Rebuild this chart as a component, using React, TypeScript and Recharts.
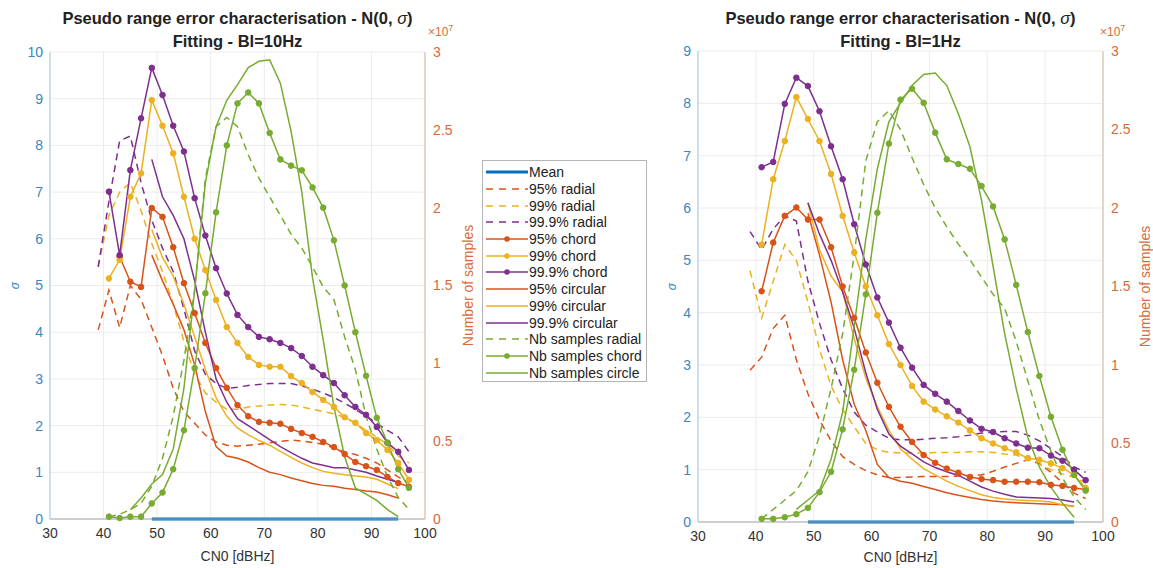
import React from "react";
import { LineChart, Line, XAxis, YAxis, CartesianGrid } from "recharts";

// CN0 sample points [dBHz]
const cn0 = [39, 41, 43, 45, 47, 49, 51, 53, 55, 57, 59, 61, 63, 65, 67, 69, 71, 73, 75, 77, 79, 81, 83, 85, 87, 89, 91, 93, 95, 97];
const xTicks = [30, 40, 50, 60, 70, 80, 90, 100];
const sampleTicks = [0, 0.5, 1, 1.5, 2, 2.5, 3];
const sigmaTicks10 = [0, 1, 2, 3, 4, 5, 6, 7, 8, 9, 10];
const sigmaTicks9 = [0, 1, 2, 3, 4, 5, 6, 7, 8, 9];

const N = null;

// ---- Bl = 10 Hz (sigma) ----
const l10Mean = [N, N, N, N, N, 0, 0, 0, 0, 0, 0, 0, 0, 0, 0, 0, 0, 0, 0, 0, 0, 0, 0, 0, 0, 0, 0, 0, 0, N];
const l10Rad95 = [4.05, 4.9, 4.1, 5.0, 4.7, 4.1, 3.5, 2.8, 2.3, 2.05, 1.8, 1.65, 1.58, 1.56, 1.58, 1.6, 1.63, 1.66, 1.69, 1.67, 1.64, 1.6, 1.52, 1.44, 1.38, 1.3, 1.2, 1.05, 0.9, 0.77];
const l10Rad99 = [5.4, 6.5, 7.0, 7.2, 6.6, 5.9, 5.3, 4.6, 3.8, 3.1, 2.7, 2.5, 2.35, 2.35, 2.4, 2.42, 2.44, 2.45, 2.44, 2.4, 2.35, 2.3, 2.25, 2.18, 2.05, 1.9, 1.75, 1.6, 1.35, 1.2];
const l10Rad999 = [5.4, 6.8, 8.1, 8.2, 7.2, 6.4, 5.8, 5.3, 4.5, 3.6, 3.1, 2.9, 2.8, 2.82, 2.86, 2.88, 2.9, 2.9, 2.9, 2.85, 2.78, 2.7, 2.6, 2.48, 2.35, 2.2, 2.05, 1.9, 1.76, 1.44];
const l10Chord95 = [N, N, 5.62, 5.08, 4.97, 6.66, 6.47, 5.82, 5.05, 4.41, 3.77, 3.23, 2.81, 2.44, 2.2, 2.08, 2.06, 2.04, 1.93, 1.84, 1.76, 1.65, 1.54, 1.39, 1.22, 1.13, 1.05, 0.9, 0.77, 0.69];
const l10Chord99 = [N, 5.15, 5.55, 6.9, 7.4, 8.97, 8.42, 7.83, 6.9, 6.0, 5.33, 4.69, 4.11, 3.77, 3.47, 3.3, 3.26, 3.26, 3.06, 2.91, 2.72, 2.55, 2.4, 2.18, 2.06, 1.84, 1.69, 1.48, 1.2, 0.84];
const l10Chord999 = [N, 7.01, 5.65, 7.47, 8.58, 9.66, 9.08, 8.42, 7.87, 6.87, 6.07, 5.37, 4.83, 4.37, 4.11, 3.9, 3.85, 3.77, 3.66, 3.49, 3.26, 3.08, 2.91, 2.65, 2.4, 2.23, 1.97, 1.63, 1.44, 1.05];
const l10Circ95 = [N, N, N, N, N, 5.65, 5.1, 4.6, 4.05, 3.3, 2.3, 1.55, 1.35, 1.3, 1.22, 1.1, 1.0, 0.95, 0.88, 0.82, 0.76, 0.72, 0.7, 0.66, 0.63, 0.6, 0.58, 0.52, 0.45, N];
const l10Circ99 = [N, N, N, N, N, 6.2, 5.6, 5.2, 4.6, 3.9, 3.2, 2.6, 2.2, 1.95, 1.8, 1.68, 1.58, 1.45, 1.32, 1.2, 1.1, 1.02, 0.98, 0.95, 0.92, 0.9, 0.85, 0.75, 0.65, N];
const l10Circ999 = [N, N, N, N, N, 7.7, 6.9, 6.5, 6.0, 5.1, 4.0, 3.0, 2.5, 2.15, 2.0, 1.85, 1.7, 1.55, 1.42, 1.3, 1.2, 1.15, 1.1, 1.1, 1.05, 1.0, 0.92, 0.85, 0.78, N];
// number of samples (x 1e7)
const l10NbRad = [N, 0.015, 0.03, 0.06, 0.1, 0.21, 0.39, 0.66, 1.02, 1.47, 2.19, 2.52, 2.58, 2.52, 2.34, 2.19, 2.07, 1.95, 1.83, 1.74, 1.62, 1.49, 1.41, 1.17, 0.96, 0.66, 0.45, 0.27, 0.14, 0.06];
const l10NbChord = [N, 0.015, 0.006, 0.015, 0.015, 0.1, 0.17, 0.32, 0.57, 0.97, 1.45, 1.97, 2.4, 2.67, 2.74, 2.67, 2.48, 2.31, 2.27, 2.24, 2.13, 2.0, 1.79, 1.5, 1.2, 0.92, 0.65, 0.49, 0.32, 0.2];
const l10NbCirc = [N, N, N, 0.06, 0.135, 0.225, 0.285, 0.45, 0.84, 1.47, 2.16, 2.52, 2.69, 2.79, 2.9, 2.94, 2.95, 2.8, 2.49, 2.1, 1.55, 1.15, 0.72, 0.4, 0.2, 0.16, 0.12, 0.06, 0.015, N];

// ---- Bl = 1 Hz (sigma) ----
const l1Mean = [N, N, N, N, N, 0, 0, 0, 0, 0, 0, 0, 0, 0, 0, 0, 0, 0, 0, 0, 0, 0, 0, 0, 0, 0, 0, 0, 0, N];
const l1Rad95 = [2.9, 3.15, 3.7, 3.95, 3.1, 2.45, 1.95, 1.55, 1.25, 1.1, 0.98, 0.9, 0.85, 0.85, 0.86, 0.87, 0.87, 0.87, 0.88, 0.89, 0.9, 0.97, 1.05, 1.12, 1.19, 1.12, 0.95, 0.75, 0.55, 0.45];
const l1Rad99 = [4.8, 3.9, 4.6, 5.3, 5.0, 4.2, 3.3, 2.6, 2.15, 1.82, 1.5, 1.38, 1.33, 1.32, 1.32, 1.32, 1.33, 1.33, 1.33, 1.34, 1.34, 1.33, 1.3, 1.28, 1.2, 1.1, 1.0, 0.92, 0.86, 0.75];
const l1Rad999 = [5.55, 5.2, 5.6, 5.85, 5.75, 4.6, 3.8, 3.1, 2.55, 2.1, 1.85, 1.72, 1.6, 1.57, 1.57, 1.58, 1.6, 1.61, 1.63, 1.66, 1.7, 1.72, 1.73, 1.73, 1.66, 1.55, 1.4, 1.25, 1.05, 0.95];
const l1Chord95 = [N, 4.41, 5.34, 5.85, 6.01, 5.78, 5.78, 5.25, 4.5, 3.9, 3.24, 2.66, 2.2, 1.82, 1.53, 1.28, 1.13, 1.02, 0.94, 0.86, 0.82, 0.8, 0.77, 0.77, 0.77, 0.76, 0.71, 0.69, 0.65, 0.62];
const l1Chord99 = [N, 5.3, 6.55, 7.28, 8.12, 7.7, 7.28, 6.65, 5.85, 5.15, 4.5, 3.95, 3.4, 3.0, 2.6, 2.3, 2.15, 2.02, 1.9, 1.75, 1.6, 1.5, 1.41, 1.33, 1.22, 1.19, 1.12, 1.03, 0.9, 0.65];
const l1Chord999 = [N, 6.78, 6.88, 7.99, 8.49, 8.33, 7.85, 7.18, 6.55, 5.69, 4.92, 4.29, 3.81, 3.33, 2.95, 2.62, 2.45, 2.3, 2.12, 1.94, 1.78, 1.72, 1.6, 1.5, 1.42, 1.41, 1.27, 1.17, 1.0, 0.8];
const l1Circ95 = [N, N, N, N, N, 5.9, 5.1, 4.2, 3.1, 2.25, 1.75, 1.1, 0.85, 0.78, 0.74, 0.68, 0.62, 0.56, 0.51, 0.47, 0.43, 0.4, 0.38, 0.37, 0.36, 0.35, 0.34, 0.33, 0.3, N];
const l1Circ99 = [N, N, N, N, N, 6.1, 5.2, 4.7, 4.4, 3.5, 2.75, 2.2, 1.75, 1.4, 1.2, 1.02, 0.9, 0.78, 0.68, 0.6, 0.52, 0.47, 0.44, 0.42, 0.41, 0.4, 0.38, 0.33, 0.29, N];
const l1Circ999 = [N, N, N, N, N, 6.1, 5.5, 5.0, 4.4, 3.7, 2.85, 2.15, 1.68, 1.45, 1.3, 1.15, 1.04, 0.96, 0.89, 0.78, 0.67, 0.59, 0.53, 0.48, 0.47, 0.46, 0.45, 0.42, 0.38, N];
const l1NbRad = [N, 0.02, 0.08, 0.14, 0.2, 0.32, 0.55, 0.85, 1.2, 1.7, 2.3, 2.55, 2.62, 2.5, 2.32, 2.15, 2.0, 1.88, 1.77, 1.67, 1.56, 1.45, 1.36, 1.15, 0.9, 0.65, 0.45, 0.28, 0.16, 0.08];
const l1NbChord = [N, 0.02, 0.02, 0.03, 0.05, 0.09, 0.19, 0.32, 0.59, 0.97, 1.45, 1.97, 2.41, 2.69, 2.76, 2.67, 2.48, 2.31, 2.28, 2.25, 2.14, 2.01, 1.8, 1.51, 1.21, 0.93, 0.67, 0.46, 0.3, 0.2];
const l1NbCirc = [N, N, N, N, 0.08, 0.14, 0.2, 0.4, 0.7, 1.25, 1.8, 2.25, 2.55, 2.67, 2.78, 2.85, 2.86, 2.78, 2.6, 2.39, 2.05, 1.63, 1.2, 0.85, 0.54, 0.35, 0.22, 0.12, 0.03, N];

const BLUE = "#0072BD";
const RED = "#D95319";
const YELLOW = "#EDB120";
const PURPLE = "#7E2F8E";
const GREEN = "#77AC30";

type Serie = {
  key: string;
  name: string;
  color: string;
  dash?: boolean;
  dot?: boolean;
  axis: "sigma" | "samples";
  width?: number;
};

const series: Serie[] = [
  { key: "mean", name: "Mean", color: BLUE, axis: "sigma", width: 3 },
  { key: "rad95", name: "95% radial", color: RED, dash: true, axis: "sigma" },
  { key: "rad99", name: "99% radial", color: YELLOW, dash: true, axis: "sigma" },
  { key: "rad999", name: "99.9% radial", color: PURPLE, dash: true, axis: "sigma" },
  { key: "chord95", name: "95% chord", color: RED, dot: true, axis: "sigma" },
  { key: "chord99", name: "99% chord", color: YELLOW, dot: true, axis: "sigma" },
  { key: "chord999", name: "99.9% chord", color: PURPLE, dot: true, axis: "sigma" },
  { key: "circ95", name: "95% circular", color: RED, axis: "sigma" },
  { key: "circ99", name: "99% circular", color: YELLOW, axis: "sigma" },
  { key: "circ999", name: "99.9% circular", color: PURPLE, axis: "sigma" },
  { key: "nbRad", name: "Nb samples radial", color: GREEN, dash: true, axis: "samples" },
  { key: "nbChord", name: "Nb samples chord", color: GREEN, dot: true, axis: "samples" },
  { key: "nbCirc", name: "Nb samples circle", color: GREEN, axis: "samples" },
];

const makeRows = (cols: Record<string, (number | null)[]>) =>
  cn0.map((x, i) => {
    const row: Record<string, number | null> = { cn0: x };
    Object.keys(cols).forEach((k) => (row[k] = cols[k][i]));
    return row;
  });

const data10 = makeRows({
  mean: l10Mean, rad95: l10Rad95, rad99: l10Rad99, rad999: l10Rad999,
  chord95: l10Chord95, chord99: l10Chord99, chord999: l10Chord999,
  circ95: l10Circ95, circ99: l10Circ99, circ999: l10Circ999,
  nbRad: l10NbRad, nbChord: l10NbChord, nbCirc: l10NbCirc,
});

const data1 = makeRows({
  mean: l1Mean, rad95: l1Rad95, rad99: l1Rad99, rad999: l1Rad999,
  chord95: l1Chord95, chord99: l1Chord99, chord999: l1Chord999,
  circ95: l1Circ95, circ99: l1Circ99, circ999: l1Circ999,
  nbRad: l1NbRad, nbChord: l1NbChord, nbCirc: l1NbCirc,
});

const FONT = "Arial, 'Liberation Sans', Helvetica, sans-serif";
const LEFT_TICK = "#3a86bd";
const RIGHT_TICK = "#d86a3a";

type PanelProps = {
  data: Record<string, number | null>[];
  left: number;
  width: number;
  top: number;
  bottom: number;
  xHeight: number;
  rightWidth: number;
  sigmaMax: number;
  sigmaTicks: number[];
  sigmaDx: number;
  samplesDx: number;
};

const Panel = (p: PanelProps) => (
  <div style={{ position: "absolute", left: p.left, top: 0 }}>
    <LineChart
      width={p.width}
      height={568}
      data={p.data}
      margin={{ top: p.top, right: 0, bottom: p.bottom, left: 0 }}
    >
      <CartesianGrid yAxisId="sigma" stroke="#ebebeb" strokeWidth={1} />
      <XAxis
        dataKey="cn0"
        type="number"
        domain={[30, 100]}
        ticks={xTicks}
        height={p.xHeight}
        tickLine={false}
        tickSize={3}
        tickMargin={6}
        axisLine={{ stroke: "#a8a8a8" }}
        tick={{ fill: "#333", fontSize: 14, fontFamily: FONT }}
        label={{ value: "CN0 [dBHz]", position: "insideBottom", offset: 0, fill: "#333", fontSize: 14, fontFamily: FONT }}
      />
      <YAxis
        yAxisId="sigma"
        orientation="left"
        width={50}
        type="number"
        domain={[0, p.sigmaMax]}
        ticks={p.sigmaTicks}
        tickLine={false}
        tickSize={3}
        tickMargin={4}
        axisLine={{ stroke: "#a9c8df" }}
        tick={{ fill: LEFT_TICK, fontSize: 14, fontFamily: FONT }}
        label={{ value: "σ", angle: -90, position: "center", dx: p.sigmaDx, fill: LEFT_TICK, fontSize: 12, fontStyle: "italic", fontFamily: FONT }}
      />
      <YAxis
        yAxisId="samples"
        orientation="right"
        width={p.rightWidth}
        type="number"
        domain={[0, 3]}
        ticks={sampleTicks}
        tickLine={false}
        tickSize={3}
        tickMargin={5}
        axisLine={{ stroke: "#dcb3a0" }}
        tick={{ fill: RIGHT_TICK, fontSize: 14, fontFamily: FONT }}
        label={{ value: "Number of samples", angle: -90, position: "center", dx: p.samplesDx, fill: RIGHT_TICK, fontSize: 14, fontFamily: FONT }}
      />
      {series.map((s) => (
        <Line
          key={s.key}
          yAxisId={s.axis}
          type="linear"
          dataKey={s.key}
          name={s.name}
          stroke={s.color}
          strokeWidth={s.width ?? 1.5}
          strokeDasharray={s.dash ? "7 5" : undefined}
          dot={s.dot ? { r: 2.8, fill: s.color, stroke: s.color, strokeWidth: 1 } : false}
          activeDot={false}
          isAnimationActive={false}
        />
      ))}
    </LineChart>
  </div>
);

const Title = ({ center, sub }: { center: number; sub: string }) => (
  <div
    style={{
      position: "absolute",
      left: center - 230,
      width: 460,
      top: 7,
      textAlign: "center",
      fontFamily: FONT,
      fontWeight: "bold",
      fontSize: 16.5,
      lineHeight: "23px",
      color: "#222",
    }}
  >
    <div>
      Pseudo range error characterisation - N(0, <span style={{ fontStyle: "italic", fontWeight: "normal" }}>σ</span>)
    </div>
    <div>{sub}</div>
  </div>
);

const Exponent = ({ left }: { left: number }) => (
  <div style={{ position: "absolute", left, top: 24, fontFamily: FONT, fontSize: 12, lineHeight: "14px", color: RIGHT_TICK }}>
    ×10<sup style={{ fontSize: 9, lineHeight: "9px" }}>7</sup>
  </div>
);

const LegendBox = () => (
  <div
    style={{
      position: "absolute",
      left: 482,
      top: 160,
      width: 165,
      height: 222,
      border: "1px solid #b4b4b4",
      background: "#fff",
      paddingTop: 3,
      boxSizing: "border-box",
      fontFamily: FONT,
      fontSize: 14,
      color: "#222",
    }}
  >
    {series.map((s) => (
      <div key={s.key} style={{ display: "flex", alignItems: "center", height: 16.7 }}>
        <svg width={44} height={10} style={{ marginLeft: 2, flexShrink: 0 }}>
          <line
            x1={1}
            y1={5}
            x2={43}
            y2={5}
            stroke={s.color}
            strokeWidth={s.width ?? 1.5}
            strokeDasharray={s.dash ? "7 6" : undefined}
          />
          {s.dot && <circle cx={22} cy={5} r={2.8} fill={s.color} />}
        </svg>
        <span style={{ marginLeft: 0, whiteSpace: "nowrap" }}>{s.name}</span>
      </div>
    ))}
  </div>
);

export default function App() {
  return (
    <div style={{ position: "absolute", left: 0, top: 0, width: 1153, height: 568, background: "#fff", overflow: "hidden" }}>
      <Panel
        data={data10}
        left={0}
        width={480}
        top={52}
        bottom={7}
        xHeight={42}
        rightWidth={55}
        sigmaMax={10}
        sigmaTicks={sigmaTicks10}
        sigmaDx={-10}
        samplesDx={16}
      />
      <Panel
        data={data1}
        left={648}
        width={505}
        top={51}
        bottom={6}
        xHeight={40}
        rightWidth={50}
        sigmaMax={9}
        sigmaTicks={sigmaTicks9}
        sigmaDx={-1}
        samplesDx={17}
      />
      <Title center={237.5} sub="Fitting - Bl=10Hz" />
      <Title center={900.5} sub="Fitting - Bl=1Hz" />
      <Exponent left={428} />
      <Exponent left={1100} />
      <LegendBox />
    </div>
  );
}
